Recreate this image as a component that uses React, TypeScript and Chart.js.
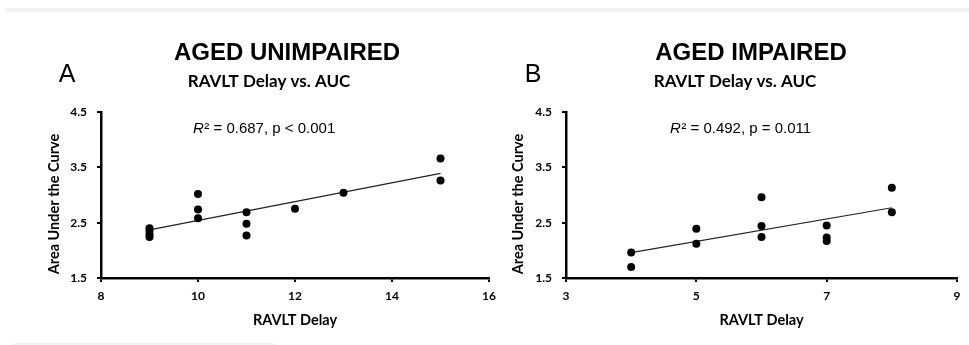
import React, { useEffect, useRef } from "react";
import { Chart, registerables } from "chart.js";

Chart.register(...registerables);

// ---------- DATA ----------
const delayA = [9, 9, 9, 9, 10, 10, 10, 11, 11, 11, 12, 13, 15, 15];
const aucA = [2.4, 2.35, 2.29, 2.24, 3.02, 2.74, 2.58, 2.69, 2.48, 2.27, 2.75, 3.04, 3.66, 3.26];
const trendDelayA = [9, 15];
const trendAucA = [2.37, 3.39];
const xTicksA = [8, 10, 12, 14, 16];

const delayB = [4, 4, 5, 5, 6, 6, 6, 7, 7, 7, 8, 8];
const aucB = [1.96, 1.7, 2.39, 2.12, 2.96, 2.44, 2.24, 2.45, 2.23, 2.17, 3.13, 2.69];
const trendDelayB = [4, 8];
const trendAucB = [1.96, 2.77];
const xTicksB = [3, 5, 7, 9];

const yTicks = [1.5, 2.5, 3.5, 4.5];

const titleA = "AGED UNIMPAIRED";
const titleB = "AGED IMPAIRED";
const letterA = "A";
const letterB = "B";
const subtitleText = "RAVLT Delay vs. AUC";
const statsA = "\u00B2 = 0.687, p < 0.001";
const statsB = "\u00B2 = 0.492, p = 0.011";
const xTitleText = "RAVLT Delay";
const yTitleText = "Area Under the Curve";

// ---------- LAYOUT ----------
const W = 969;
const H = 345;
const CALIBRI = "Lato, 'Open Sans', sans-serif";
const ARIAL = "'Liberation Sans', Arial, sans-serif";

const textPlugin = {
  id: "panelText",
  afterDraw(chart: any, _args: any, o: any) {
    const ctx = chart.ctx;
    ctx.save();
    ctx.fillStyle = "#000";
    ctx.textBaseline = "alphabetic";
    ctx.textAlign = "center";
    ctx.font = `bold 24px ${ARIAL}`;
    ctx.fillText(o.title, o.titleX, 60);
    ctx.font = `25px ${ARIAL}`;
    ctx.fillText(o.letter, o.letterX, 82);
    ctx.font = `bold 17px ${CALIBRI}`;
    ctx.fillText(subtitleText, o.subX, 87);
    ctx.textAlign = "left";
    ctx.font = `italic 15px ${ARIAL}`;
    ctx.fillText("R", o.statX, 133);
    const w = ctx.measureText("R").width;
    ctx.font = `15px ${ARIAL}`;
    ctx.fillText(o.stats, o.statX + w + 0.5, 133);
    ctx.translate(o.yTitleX, 204);
    ctx.rotate(-Math.PI / 2);
    ctx.textAlign = "center";
    ctx.textBaseline = "middle";
    ctx.font = `bold 14.5px ${CALIBRI}`;
    ctx.fillText(yTitleText, 0, 0);
    ctx.restore();
  },
};

function makeConfig(p: any): any {
  const pts = p.xs.map((x: number, i: number) => ({ x, y: p.ys[i] }));
  const trend = p.tx.map((x: number, i: number) => ({ x, y: p.ty[i] }));
  return {
    type: "scatter",
    data: {
      datasets: [
        {
          data: pts,
          pointRadius: 4,
          pointHoverRadius: 4,
          backgroundColor: "#000",
          borderColor: "#000",
          borderWidth: 0,
        },
        {
          data: trend,
          showLine: true,
          borderColor: "#222",
          borderWidth: 1.2,
          pointRadius: 0,
          fill: false,
        },
      ],
    },
    options: {
      responsive: false,
      animation: false,
      events: [],
      layout: { padding: { left: p.padLeft, right: p.padRight, top: 112, bottom: 12 } },
      plugins: {
        legend: { display: false },
        tooltip: { enabled: false },
        panelText: p.text,
      },
      scales: {
        x: {
          type: "linear",
          position: "bottom",
          min: p.xMin,
          max: p.xMax,
          afterBuildTicks: (s: any) => {
            s.ticks = p.xTicks.map((v: number) => ({ value: v }));
          },
          afterFit: (s: any) => {
            s.height = 55;
          },
          ticks: {
            color: "#000",
            padding: 7,
            font: { family: CALIBRI, size: 12, weight: "bold" },
          },
          grid: { drawOnChartArea: false, drawTicks: true, tickLength: 4, color: "#000", lineWidth: 2 },
          border: { display: true, color: "#000", width: 2.5 },
          title: {
            display: true,
            text: xTitleText,
            color: "#000",
            font: { family: CALIBRI, size: 14.5, weight: "bold" },
            padding: { top: 0, bottom: 4 },
          },
        },
        y: {
          type: "linear",
          position: "left",
          min: 1.5,
          max: 4.5,
          afterBuildTicks: (s: any) => {
            s.ticks = yTicks.map((v: number) => ({ value: v }));
          },
          afterFit: (s: any) => {
            s.width = 61;
          },
          ticks: {
            color: "#000",
            padding: 10,
            font: { family: CALIBRI, size: 12, weight: "bold" },
          },
          grid: { drawOnChartArea: false, drawTicks: true, tickLength: 4, color: "#000", lineWidth: 2 },
          border: { display: true, color: "#000", width: 2.5 },
        },
      },
    },
    plugins: [textPlugin],
  };
}

const panelA = {
  xs: delayA,
  ys: aucA,
  tx: trendDelayA,
  ty: trendAucA,
  xMin: 8,
  xMax: 16,
  xTicks: xTicksA,
  padLeft: 40,
  padRight: W - 489,
  text: { title: titleA, titleX: 287, letter: letterA, letterX: 67, subX: 269, stats: statsA, statX: 193, yTitleX: 54 },
};

const panelB = {
  xs: delayB,
  ys: aucB,
  tx: trendDelayB,
  ty: trendAucB,
  xMin: 3,
  xMax: 9,
  xTicks: xTicksB,
  padLeft: 505,
  padRight: W - 957,
  text: { title: titleB, titleX: 751, letter: letterB, letterX: 533, subX: 735, stats: statsB, statX: 670, yTitleX: 518 },
};

export default function App() {
  const refA = useRef<HTMLCanvasElement>(null);
  const refB = useRef<HTMLCanvasElement>(null);

  useEffect(() => {
    const a = new Chart(refA.current as HTMLCanvasElement, makeConfig(panelA));
    const b = new Chart(refB.current as HTMLCanvasElement, makeConfig(panelB));
    return () => {
      a.destroy();
      b.destroy();
    };
  }, []);

  const cs: React.CSSProperties = { position: "absolute", left: 0, top: 0, width: W, height: H };
  return (
    <div style={{ position: "fixed", left: 0, top: 0, width: W, height: H, background: "#fff", overflow: "hidden" }}>
      <div style={{ position: "absolute", left: 5, right: 0, top: 8, height: 4, background: "#f3f3f3" }} />
      <div style={{ position: "absolute", left: 13, width: 262, top: 343, height: 2, background: "#f3f3f3" }} />
      <canvas ref={refA} width={W} height={H} style={cs} />
      <canvas ref={refB} width={W} height={H} style={cs} />
    </div>
  );
}
